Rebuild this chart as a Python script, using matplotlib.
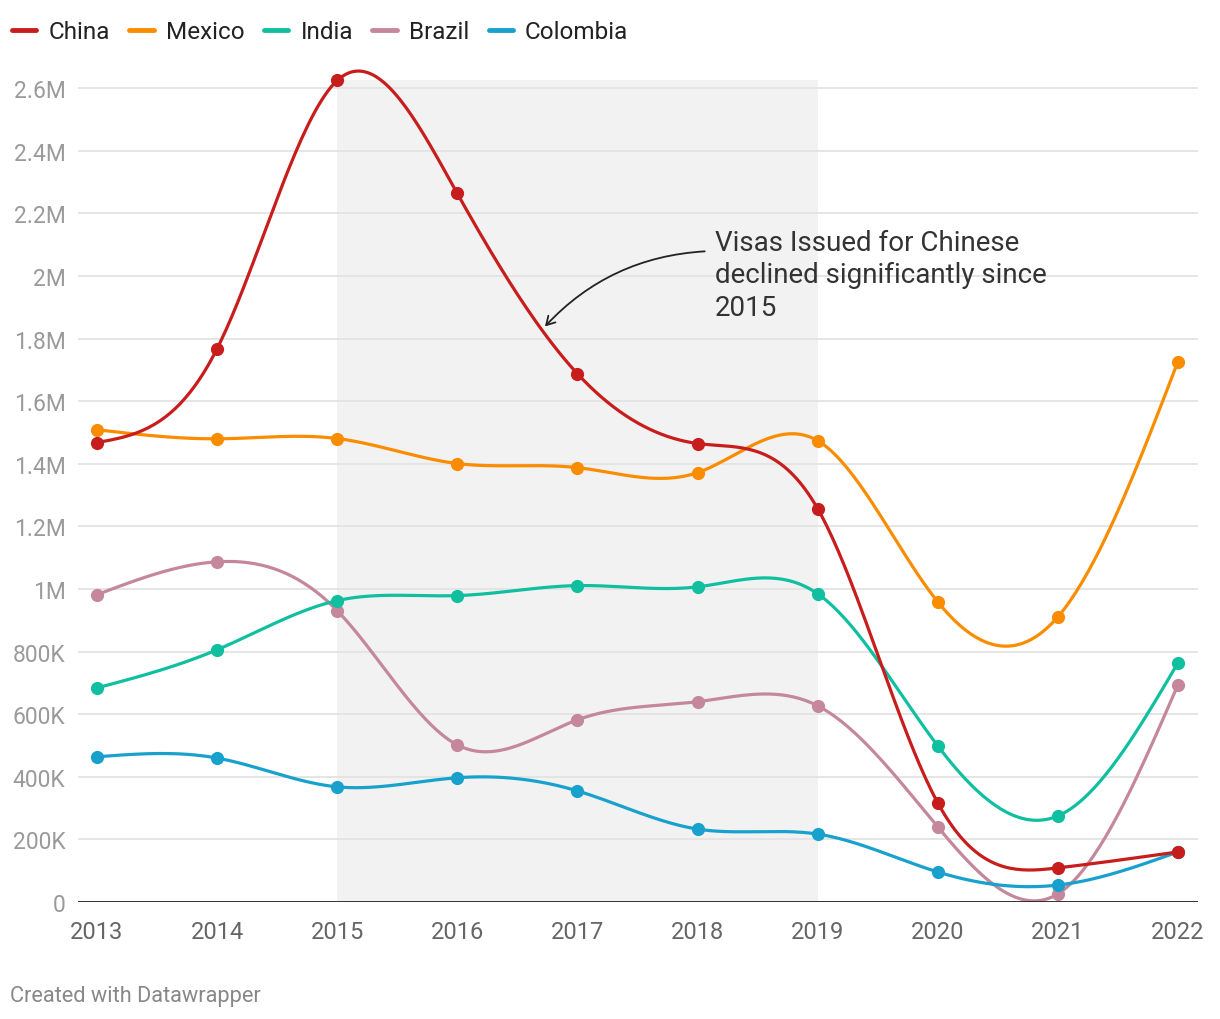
import numpy as np
import matplotlib.pyplot as plt

plt.rcParams['font.family'] = ['Roboto', 'DejaVu Sans']

years = [2013, 2014, 2015, 2016, 2017, 2018, 2019, 2020, 2021, 2022]
china = [1468, 1768, 2625, 2264, 1688, 1465, 1257, 317, 109, 160]
mexico = [1509, 1480, 1481, 1401, 1388, 1372, 1474, 959, 911, 1727]
india = [684, 806, 963, 979, 1011, 1007, 985, 499, 275, 764]
brazil = [982, 1087, 931, 502, 582, 640, 627, 240, 26, 694]
colombia = [464, 460, 368, 397, 355, 233, 217, 96, 54, 160]

series = [
    ("Brazil", brazil, "#c4879b", 2),
    ("India", india, "#0fbf9f", 3),
    ("Mexico", mexico, "#fa8c00", 4),
    ("Colombia", colombia, "#18a1cd", 5),
    ("China", china, "#c71e1d", 6),
]
legend_order = ["China", "Mexico", "India", "Brazil", "Colombia"]

yticks = [0, 200, 400, 600, 800, 1000, 1200, 1400, 1600, 1800, 2000, 2200, 2400, 2600]
ylabels = ["0", "200K", "400K", "600K", "800K", "1M", "1.2M", "1.4M", "1.6M",
           "1.8M", "2M", "2.2M", "2.4M", "2.6M"]
highlight = (2015, 2019)


def natural_spline(x, y, n=40):
    # natural cubic spline through the points (the chart's "curved" lines)
    x = np.asarray(x, float)
    y = np.asarray(y, float)
    k = len(x)
    h = np.diff(x)
    A = np.zeros((k, k))
    r = np.zeros(k)
    A[0, 0] = A[-1, -1] = 1
    for i in range(1, k - 1):
        A[i, i - 1] = h[i - 1]
        A[i, i] = 2 * (h[i - 1] + h[i])
        A[i, i + 1] = h[i]
        r[i] = 6 * ((y[i + 1] - y[i]) / h[i] - (y[i] - y[i - 1]) / h[i - 1])
    M = np.linalg.solve(A, r)
    xs, ys = [], []
    for i in range(k - 1):
        t = np.linspace(x[i], x[i + 1], n, endpoint=False)
        a = (x[i + 1] - t) / h[i]
        b = (t - x[i]) / h[i]
        s = (a * y[i] + b * y[i + 1]
             + ((a**3 - a) * M[i] + (b**3 - b) * M[i + 1]) * h[i]**2 / 6)
        xs.append(t)
        ys.append(s)
    xs.append([x[-1]])
    ys.append([y[-1]])
    return np.concatenate(xs), np.concatenate(ys)


fig = plt.figure(figsize=(12.2, 10.2), dpi=100)
ax = fig.add_axes([78 / 1220, 1 - 903 / 1020, 1120 / 1220, (903 - 58) / 1020])

ax.fill_between(highlight, 0, 2627, color="#f2f2f2", zorder=0, lw=0)

handles = {}
for name, vals, color, z in series:
    xs, ys = natural_spline(years, vals)
    ln, = ax.plot(xs, ys, color=color, lw=2.3, zorder=z, solid_capstyle="round")
    ax.plot(years, vals, "o", color=color, ms=9.5, mec="none", zorder=z)
    handles[name] = ln

ax.set_xlim(2012.842, 2022.167)
ax.set_ylim(0, 2700)
ax.set_yticks(yticks)
ax.set_yticklabels(ylabels)
ax.set_xticks(years)
ax.tick_params(axis="y", length=0, pad=9, labelsize=16.5, labelcolor="#9a9a9a")
ax.tick_params(axis="x", length=0, pad=13, labelsize=17, labelcolor="#666666")
ax.grid(axis="y", color="#e3e3e3", lw=1.3, zorder=0.5)
ax.set_axisbelow(True)
for s in ax.spines.values():
    s.set_visible(False)
ax.axhline(0, color="#222222", lw=2, zorder=7)

ax.text(2018.146, 2150, "Visas Issued for Chinese\ndeclined significantly since\n2015",
        fontsize=20, color="#333333", va="top", ha="left", linespacing=1.25, zorder=8)
ax.annotate("", xy=(2016.73, 1839), xytext=(2018.06, 2079),
            arrowprops=dict(arrowstyle="->,head_length=0.6,head_width=0.35",
                            color="#222222", lw=1.3,
                            connectionstyle="arc3,rad=0.2",
                            shrinkA=0, shrinkB=0),
            zorder=8)

leg = fig.legend([handles[n] for n in legend_order], legend_order,
                 loc="upper left", bbox_to_anchor=(0.0, 0.991), ncol=5,
                 frameon=False, fontsize=17.5, handlelength=1.0, handletextpad=0.5,
                 columnspacing=0.8, borderaxespad=0.1)
for ln in leg.get_lines():
    ln.set_linewidth(3.5)
for t in leg.get_texts():
    t.set_color("#222222")

fig.text(10 / 1220, 1 - 997 / 1020, "Created with Datawrapper", fontsize=15.7,
         color="#888888", va="center", ha="left")

fig.savefig("out.png", dpi=100)
